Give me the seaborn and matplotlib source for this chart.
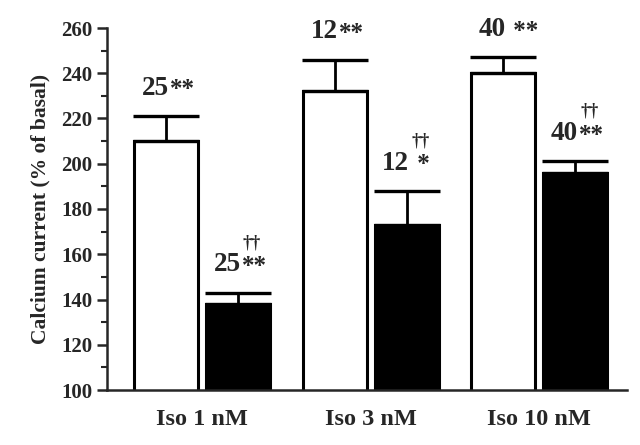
import numpy as np
import pandas as pd
import matplotlib
matplotlib.use("Agg")
import matplotlib.pyplot as plt
from matplotlib.ticker import MultipleLocator
import seaborn as sns

# values
doses = ["Iso 1 nM", "Iso 3 nM", "Iso 10 nM"]
control = [210, 232, 240]
control_err = [11, 14, 7]
treated = [138, 173, 196]
treated_err = [5, 15, 5]
n_control = ["25", "12", "40"]
n_treated = ["25", "12", "40"]
stars_control = ["**", "**", " **"]
stars_treated = ["**", " *", "**"]
daggers_treated = ["\u2020\u2020", "\u2020\u2020", "\u2020\u2020"]

sns.set_style("ticks")
plt.rcParams['font.family'] = ['Liberation Serif', 'DejaVu Serif']
plt.rcParams['font.weight'] = 'bold'

df = pd.DataFrame({
    "dose": doses * 2,
    "cond": ["control"] * 3 + ["treated"] * 3,
    "value": control + treated,
})

fig = plt.figure(figsize=(6.4, 4.45), dpi=100)
ax = fig.add_axes([107 / 640, 55 / 445, 520 / 640, 362 / 445])

sns.barplot(data=df, x="dose", y="value", hue="cond",
            palette=["white", "black"], saturation=1,
            width=0.853, gap=0.11, edgecolor="black", linewidth=2.2,
            legend=False, ax=ax)

# bar positions from the patches seaborn drew
bars = sorted([p for p in ax.patches if p.get_height() > 0], key=lambda p: p.get_x())
xs = [p.get_x() + p.get_width() / 2 for p in bars]
heights = [p.get_height() for p in bars]
errs = []
for c, t in zip(control_err, treated_err):
    errs += [c, t]
nums, stars, dags = [], [], []
for i in range(3):
    nums += [n_control[i], n_treated[i]]
    stars += [stars_control[i], stars_treated[i]]
    dags += ["", daggers_treated[i]]

ax.errorbar(xs, heights, yerr=[np.zeros(len(errs)), errs], fmt="none",
            ecolor="black", elinewidth=2, capsize=24, capthick=2.4, zorder=5)

for x, h, e, n, s, d in zip(xs, heights, errs, nums, stars, dags):
    top = h + e
    ax.annotate(n, (x, top), xytext=(2, 20), textcoords="offset points",
                ha="right", va="center", fontsize=19.5, fontweight="bold")
    ax.annotate(s, (x, top), xytext=(3, 19), textcoords="offset points",
                ha="left", va="center", fontsize=18, fontweight="bold")
    if d:
        ax.annotate(d, (x, top), xytext=(10, 36), textcoords="offset points",
                    ha="center", va="center", fontsize=13, fontweight="bold")

ax.set_ylim(100, 260)
ax.set_xlim(-0.563, 2.52)
ax.set_yticks(range(100, 261, 20))
ax.yaxis.set_minor_locator(MultipleLocator(10))
for sp in ["top", "right"]:
    ax.spines[sp].set_visible(False)
for sp in ["left", "bottom"]:
    ax.spines[sp].set_linewidth(1.8)
ax.tick_params(axis="y", which="major", length=7, width=1.8, labelsize=15)
ax.tick_params(axis="y", which="minor", length=4, width=1.5)
ax.tick_params(axis="x", length=0, labelsize=17.5, pad=14)
for lab in ax.get_xticklabels() + ax.get_yticklabels():
    lab.set_fontweight("bold")
ax.set_xlabel("")
ax.set_ylabel("Calcium current (% of basal)", fontsize=15.5, fontweight="bold", labelpad=8)

fig.savefig("out.png", dpi=100)
